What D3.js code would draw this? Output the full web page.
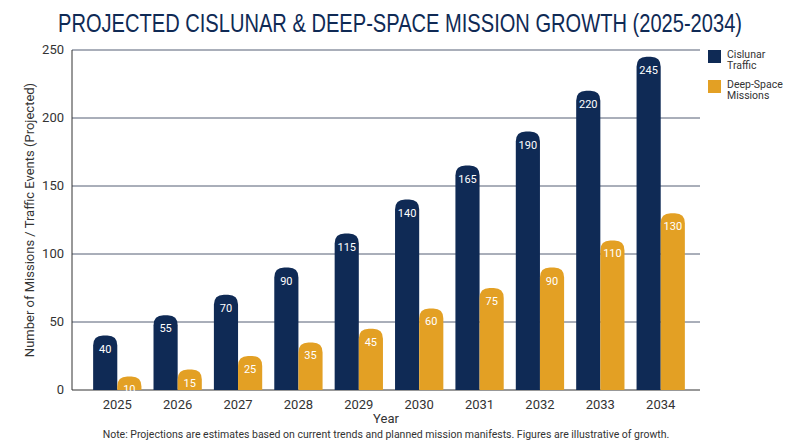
<!DOCTYPE html>
<html><head><meta charset="utf-8">
<script src="https://cdn.jsdelivr.net/npm/d3@7"></script>
<style>body{margin:0;background:#fff}</style>
</head><body>
<svg id="c" width="800" height="447"></svg>
<script>
// data
const years = ["2025","2026","2027","2028","2029","2030","2031","2032","2033","2034"];
const cislunar = [40,55,70,90,115,140,165,190,220,245];
const deepSpace = [10,15,25,35,45,60,75,90,110,130];
const yTicks = [0,50,100,150,200,250];

const navy = "#0f2a55", orange = "#e3a024";
const m = {l:72, r:100, t:50, b:57};
const W = 800, H = 447;
const svg = d3.select("#c");

const x = d3.scaleBand().domain(years).range([m.l, 706]).paddingInner(0.2).paddingOuter(0.35);
const x2 = d3.scaleBand().domain(["c","d"]).range([0, x.bandwidth()]);
const y = d3.scaleLinear().domain([0,250]).range([H-m.b, m.t]);

// grid
svg.append("g").selectAll("line").data(yTicks).enter().append("line")
  .attr("x1", m.l).attr("x2", W-m.r).attr("y1", d=>y(d)).attr("y2", d=>y(d))
  .attr("stroke", d=> d===0 ? "#333" : "#2a3550").attr("stroke-width", d=> d===0?1:0.8);
svg.append("line").attr("x1",m.l).attr("x2",m.l).attr("y1",y(0)).attr("y2",y(250)).attr("stroke","#333");

// y ticks
svg.append("g").selectAll("text").data(yTicks).enter().append("text")
  .attr("x", m.l-8).attr("y", d=>y(d)+4).attr("text-anchor","end")
  .attr("font-family","Roboto").attr("font-size",13).attr("fill","#333").text(d=>d);

// x ticks
svg.append("g").selectAll("text").data(years).enter().append("text")
  .attr("x", d=>x(d)+x.bandwidth()/2).attr("y", y(0)+19).attr("text-anchor","middle")
  .attr("font-family","Roboto").attr("font-size",13).attr("fill","#333").text(d=>d);

function barPath(x0, w, yTop, yBot){
  const r = Math.min(10, w/2, yBot-yTop);
  return `M${x0},${yBot}V${yTop+r}Q${x0},${yTop} ${x0+r},${yTop}H${x0+w-r}Q${x0+w},${yTop} ${x0+w},${yTop+r}V${yBot}Z`;
}

const series = [{k:"c", vals:cislunar, col:navy},{k:"d", vals:deepSpace, col:orange}];
series.forEach(s=>{
  const g = svg.append("g");
  g.selectAll("path").data(years).enter().append("path")
    .attr("d",(d,i)=>barPath(x(d)+x2(s.k), x2.bandwidth(), y(s.vals[i]), y(0)))
    .attr("fill", s.col);
  g.selectAll("text").data(years).enter().append("text")
    .attr("x",(d)=>x(d)+x2(s.k)+x2.bandwidth()/2).attr("y",(d,i)=>y(s.vals[i])+17)
    .attr("text-anchor","middle").attr("font-family","Roboto").attr("font-size",11)
    .attr("fill","#fff").text((d,i)=>s.vals[i]);
});

// title
svg.append("text").attr("x",400).attr("y",32).attr("text-anchor","middle")
  .attr("font-family","Liberation Sans Narrow, sans-serif").attr("font-weight","normal")
  .attr("font-size",26).attr("fill",navy).attr("textLength",684).attr("lengthAdjust","spacingAndGlyphs")
  .text("PROJECTED CISLUNAR & DEEP-SPACE MISSION GROWTH (2025-2034)");

// axis titles
svg.append("text").attr("x",386).attr("y",423).attr("text-anchor","middle")
  .attr("font-family","Roboto").attr("font-size",13).attr("fill","#333").text("Year");
svg.append("text").attr("transform",`translate(34,${(y(0)+y(250))/2}) rotate(-90)`).attr("text-anchor","middle")
  .attr("font-family","Roboto").attr("font-size",13).attr("fill","#333")
  .text("Number of Missions / Traffic Events (Projected)");
svg.append("text").attr("x",386).attr("y",438).attr("text-anchor","middle")
  .attr("font-family","Roboto").attr("font-size",10.5).attr("fill","#333")
  .text("Note: Projections are estimates based on current trends and planned mission manifests. Figures are illustrative of growth.");

// legend
const leg = [{c:navy, t:["Cislunar","Traffic"]},{c:orange, t:["Deep-Space","Missions"]}];
leg.forEach((l,i)=>{
  const g = svg.append("g").attr("transform",`translate(708,${50+i*30})`);
  g.append("rect").attr("width",13).attr("height",13).attr("fill",l.c);
  l.t.forEach((t,j)=>g.append("text").attr("x",19).attr("y",8+j*11)
    .attr("font-family","Roboto").attr("font-size",10.5).attr("fill","#333").text(t));
});
</script>
</body></html>
